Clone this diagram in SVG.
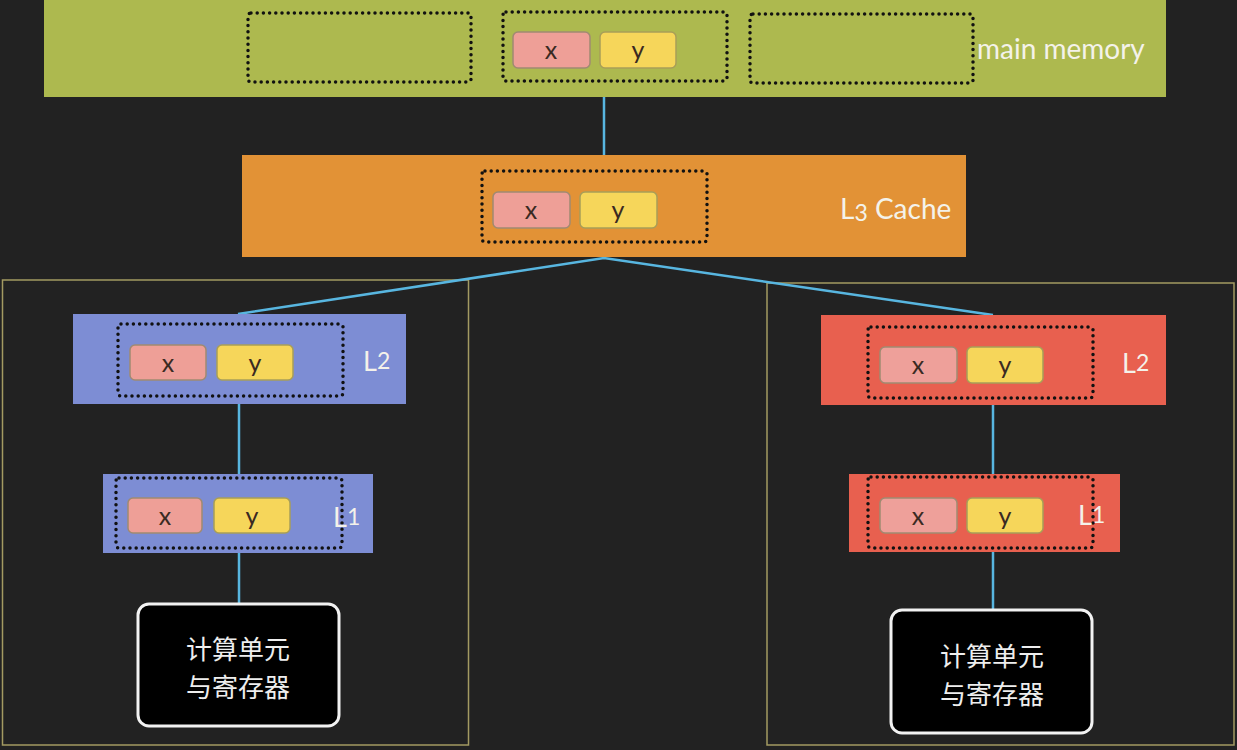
<svg xmlns="http://www.w3.org/2000/svg" width="1237" height="750" viewBox="0 0 1237 750">
<defs>
<style>
.dot{fill:none;stroke:#111;stroke-width:3.5;stroke-linecap:round;stroke-dasharray:0 6.2}
.cx{fill:#ee9f97;stroke:#a08a72;stroke-width:1.5}
.cy{fill:#f6d65a;stroke:#a89e58;stroke-width:1.5}
.ct{font-family:"Lato","Open Sans",sans-serif;font-size:25px;fill:#3a2a22;text-anchor:middle;dominant-baseline:central}
.lbl{font-family:"Lato","Open Sans",sans-serif;fill:#f4f2ea;dominant-baseline:central}
.conn{stroke:#58b6e0;stroke-width:2.5;fill:none}
.frame{fill:none;stroke:#a39a62;stroke-width:1.5}
.cpu{fill:#000;stroke:#f2f2f2;stroke-width:3}
.cn{font-family:"Noto Sans CJK SC",sans-serif;font-size:26px;fill:#eeeeee;text-anchor:middle;dominant-baseline:central}
</style>
</defs>
<rect x="0" y="0" width="1237" height="750" fill="#222222"/>

<g id="frames">
<rect class="frame" x="2.5" y="280" width="466" height="465"/>
<rect class="frame" x="767" y="283" width="467" height="462"/>
</g>

<g id="connectors">
<line class="conn" x1="604" y1="97" x2="604" y2="155"/>
<polyline class="conn" points="238,314 604,258 993,315"/>
<line class="conn" x1="239" y1="404" x2="239" y2="474"/>
<line class="conn" x1="239" y1="553" x2="239" y2="603"/>
<line class="conn" x1="993" y1="405" x2="993" y2="474"/>
<line class="conn" x1="993" y1="552" x2="993" y2="609"/>
</g>

<g id="main-memory">
<rect x="44" y="0" width="1122" height="97" fill="#adb94f"/>
<rect class="dot" x="248" y="13" width="223" height="69" rx="3"/>
<rect class="dot" x="503" y="12" width="224" height="69" rx="3"/>
<rect class="dot" x="750" y="14" width="223" height="69" rx="3"/>
<rect class="cx" x="513" y="32" width="77" height="36" rx="5"/>
<rect class="cy" x="600" y="32" width="76" height="36" rx="5"/>
<text class="ct" x="551" y="49">x</text>
<text class="ct" x="638" y="49">y</text>
<text class="lbl" x="977" y="48" font-size="28">main memory</text>
</g>

<g id="l3-cache">
<rect x="242" y="155" width="724" height="102" fill="#e29236"/>
<rect class="dot" x="482" y="171" width="225" height="71" rx="3"/>
<rect class="cx" x="493" y="192" width="77" height="36" rx="5"/>
<rect class="cy" x="580" y="192" width="77" height="36" rx="5"/>
<text class="ct" x="531" y="209">x</text>
<text class="ct" x="618" y="209">y</text>
<text class="lbl" x="840" y="208" font-size="28">L<tspan font-size="23" dy="4">3</tspan><tspan dy="-4"> Cache</tspan></text>
</g>

<g id="left-l2">
<rect x="73" y="314" width="333" height="90" fill="#7d8dd4"/>
<rect class="dot" x="118" y="324" width="225" height="72" rx="3"/>
<rect class="cx" x="130" y="345" width="76" height="35" rx="5"/>
<rect class="cy" x="217" y="345" width="76" height="35" rx="5"/>
<text class="ct" x="168" y="362">x</text>
<text class="ct" x="255" y="362">y</text>
<text class="lbl" x="363" y="360" font-size="27">L<tspan font-size="23">2</tspan></text>
</g>

<g id="left-l1">
<rect x="103" y="474" width="270" height="79" fill="#7d8dd4"/>
<rect class="dot" x="116" y="478" width="226" height="70" rx="3"/>
<rect class="cx" x="128" y="498" width="74" height="35" rx="5"/>
<rect class="cy" x="214" y="498" width="76" height="35" rx="5"/>
<text class="ct" x="165" y="515">x</text>
<text class="ct" x="252" y="515">y</text>
<text class="lbl" x="333" y="516" font-size="27">L<tspan font-size="23">1</tspan></text>
</g>

<g id="left-cpu">
<rect class="cpu" x="138" y="604" width="201" height="122" rx="11"/>
<text class="cn" x="238" y="647">计算单元</text>
<text class="cn" x="238" y="685">与寄存器</text>
</g>

<g id="right-l2">
<rect x="821" y="315" width="345" height="90" fill="#e8604f"/>
<rect class="dot" x="868" y="327" width="225" height="71" rx="3"/>
<rect class="cx" x="880" y="347" width="77" height="36" rx="5" style="fill:#eea09a"/>
<rect class="cy" x="967" y="347" width="76" height="36" rx="5"/>
<text class="ct" x="918" y="364">x</text>
<text class="ct" x="1005" y="364">y</text>
<text class="lbl" x="1122" y="362" font-size="27">L<tspan font-size="23">2</tspan></text>
</g>

<g id="right-l1">
<rect x="849" y="474" width="271" height="78" fill="#e8604f"/>
<rect class="dot" x="868" y="477" width="225" height="71" rx="3"/>
<rect class="cx" x="880" y="498" width="77" height="35" rx="5" style="fill:#eea09a"/>
<rect class="cy" x="967" y="498" width="76" height="35" rx="5"/>
<text class="ct" x="918" y="515">x</text>
<text class="ct" x="1005" y="515">y</text>
<text class="lbl" x="1078" y="514" font-size="27">L<tspan font-size="23">1</tspan></text>
</g>

<g id="right-cpu">
<rect class="cpu" x="891" y="610" width="201" height="123" rx="11"/>
<text class="cn" x="992" y="654">计算单元</text>
<text class="cn" x="992" y="692">与寄存器</text>
</g>
</svg>
